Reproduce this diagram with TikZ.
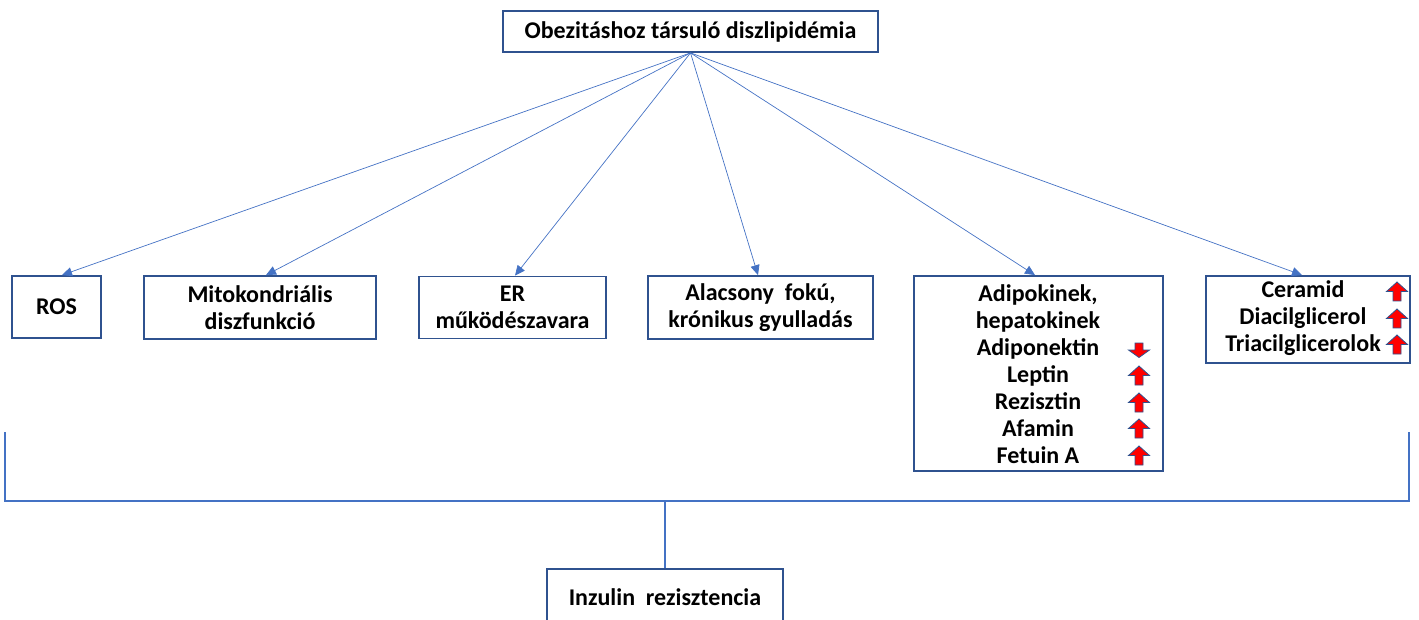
\documentclass[tikz,border=0pt]{standalone}
\usepackage{fontspec}
\setmainfont{Carlito}
\usetikzlibrary{arrows.meta}
\definecolor{boxblue}{HTML}{2F528F}
\definecolor{lineblue}{HTML}{4472C4}
\tikzset{
  box/.style={draw=boxblue, line width=1.8pt, fill=white, inner sep=0pt, align=center,
    font=\fontsize{24}{27}\selectfont\bfseries},
  txt/.style={inner sep=0pt, align=center, font=\fontsize{24}{27}\selectfont\bfseries},
  conn/.style={draw=lineblue, line width=0.7pt, -{Triangle[length=10pt,width=9pt]}},
  bracket/.style={draw=lineblue, line width=2pt},
  pics/uparr/.style={code={
    \draw[fill=red, draw=boxblue, line width=0.8pt, line join=miter]
      (0,-10) -- (10.5,-0.5) -- (4,-0.5) -- (4,9) -- (-4,9) -- (-4,-0.5) -- (-10.5,-0.5) -- cycle;}},
  pics/downarr/.style={code={
    \draw[fill=red, draw=boxblue, line width=0.8pt, line join=miter]
      (0,7.5) -- (10.5,0) -- (4,0) -- (4,-7) -- (-4,-7) -- (-4,0) -- (-10.5,0) -- cycle;}},
}
\begin{document}
\begin{tikzpicture}[x=1pt,y=-1pt]
\useasboundingbox (0,0) rectangle (1419,620);
% top
\node[box, minimum width=375, minimum height=41] (top) at (690.5,31.5) {Obezitáshoz társuló diszlipidémia};
% row
\node[box, minimum width=89, minimum height=62] (ros) at (56.5,307) {ROS};
\node[box, minimum width=232, minimum height=63] (mito) at (260,307.5) {Mitokondriális\\diszfunkció};
\node[box, minimum width=187, minimum height=62] (er) at (512.5,307.5) {ER\\működészavara};
\node[box, minimum width=225, minimum height=63] (ala) at (760.5,307.5) {Alacsony\ \ fokú,\\krónikus gyulladás};
\node[box, minimum width=249, minimum height=195] (adi) at (1038.5,373.5) {};
\node[txt] (aditxt) at (1038,374.5) {Adipokinek,\\hepatokinek\\Adiponektin\\Leptin\\Rezisztin\\Afamin\\Fetuin A};
\node[box, minimum width=204, minimum height=87] (cer) at (1308,319.5) {};
\node[txt] (certxt) at (1303,318.5) {Ceramid\\Diacilglicerol\\Triacilglicerolok};
% indicator arrows
\pic at (1139,350) {downarr};
\pic at (1139,376) {uparr};
\pic at (1139,403) {uparr};
\pic at (1139,429) {uparr};
\pic at (1139,456) {uparr};
\pic at (1397,292) {uparr};
\pic at (1397,319) {uparr};
\pic at (1397,345) {uparr};
% connectors
\draw[conn] (top.south) -- ([xshift=5.5pt]ros.north);
\draw[conn] (top.south) -- ([xshift=6pt]mito.north);
\draw[conn] (top.south) -- ([xshift=2.5pt]er.north);
\draw[conn] (top.south) -- ([xshift=-2.5pt]ala.north);
\draw[conn] (top.south) -- ([xshift=-3.5pt]adi.north);
\draw[conn] (top.south) -- ([xshift=-6pt]cer.north);
% bottom
\node[box, minimum width=236, minimum height=56] (ir) at (665,597) {Inzulin\ \ rezisztencia};
\coordinate (bl) at (5,432);
\coordinate (br) at (1409,432);
\coordinate (bm) at (665,501);
\draw[bracket] (bl) -- (bl |- bm) -- (br |- bm) -- (br);
\draw[bracket] (bm) -- (ir.north);
\end{tikzpicture}
\end{document}
